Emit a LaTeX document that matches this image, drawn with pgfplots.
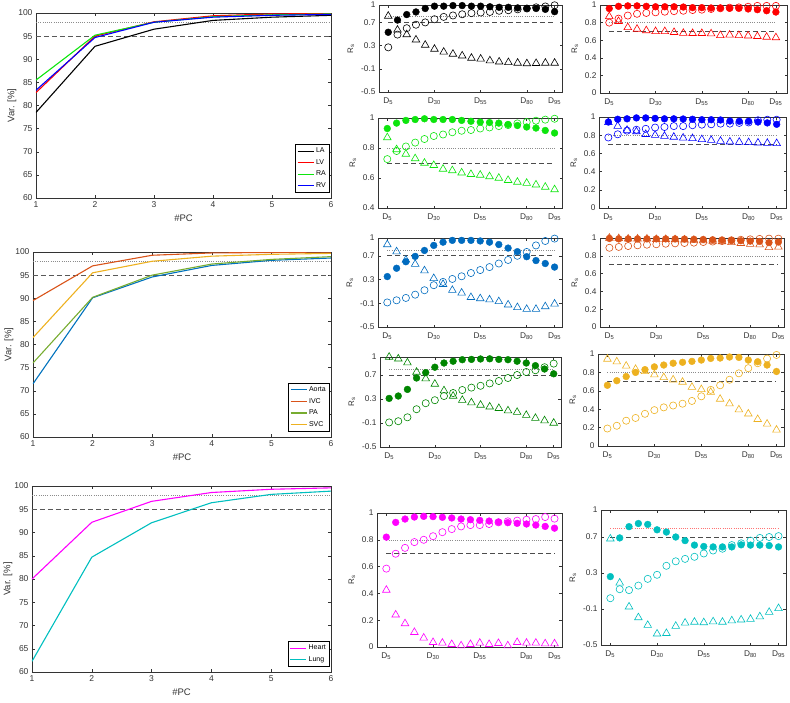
\documentclass[border=0pt]{standalone}
\usepackage{fontspec}
\setmainfont{Liberation Sans}
\usepackage{pgfplots}
\usepackage{pgfplotstable}
\pgfplotsset{compat=1.18}

\definecolor{mGreen}{rgb}{0.05,0.9,0.05}
\definecolor{mRed}{rgb}{1,0,0}
\definecolor{mBlue}{rgb}{0,0,1}
\definecolor{cAorta}{rgb}{0,0.447,0.741}
\definecolor{cAortaS}{rgb}{0,0.42,0.75}
\definecolor{cIVC}{rgb}{0.85,0.325,0.098}
\definecolor{cPA}{rgb}{0.466,0.674,0.188}
\definecolor{cSVC}{rgb}{0.929,0.694,0.125}
\definecolor{cPAs}{rgb}{0.0,0.52,0.0}
\definecolor{cLung}{rgb}{0.0,0.75,0.75}
\definecolor{cMag}{rgb}{1,0,1}
\definecolor{axgray}{rgb}{0.2,0.2,0.2}

\pgfplotsset{
 varax/.style={
  scale only axis,
  xmin=1, xmax=6, ymin=60, ymax=100,
  xtick={1,2,3,4,5,6}, ytick={60,65,70,75,80,85,90,95,100},
  tick align=inside, major tick length=3pt,
  axis line style={draw=axgray, line width=0.5pt},
  tick style={draw=axgray, line width=0.5pt},
  tick label style={font=\fontsize{8.5}{9}\selectfont, text=axgray},
  /pgf/number format/assume math mode=true,
  xlabel={\#PC}, ylabel={Var. [\%]},
  ylabel style={yshift=-5pt},
  label style={font=\fontsize{9.5}{10}\selectfont, text=axgray},
  legend style={at={(0.995,0.03)}, anchor=south east, font=\fontsize{7}{8}\selectfont,
    draw=black, inner sep=1.5pt, row sep=1.2pt, cells={anchor=west}},
  legend image code/.code={\draw[#1] (0pt,0pt) -- (16pt,0pt);},
 },
 vline/.style={draw=#1, line width=1.1pt, no marks},
 refdashL/.style={draw=black!65, line width=0.7pt, dash pattern=on 5pt off 3pt, no marks, forget plot},
 refdotL/.style={draw=black!45, line width=0.6pt, dash pattern=on 0.8pt off 1.4pt, no marks, forget plot},
 rsax/.style={
  scale only axis,
  xmin=0, xmax=99,
  xtick={5,30,55,80,95},
  xticklabels={D\textsubscript{5},D\textsubscript{30},D\textsubscript{55},D\textsubscript{80},D\textsubscript{95}},
  xticklabel style={yshift=-2pt},
  tick align=inside, major tick length=2.5pt,
  axis line style={draw=black!80, line width=0.6pt},
  tick style={draw=black!80, line width=0.5pt},
  tick label style={font=\fontsize{8.3}{9}\selectfont, text=black!80},
  /pgf/number format/assume math mode=true,
  ylabel={R\textsubscript{s}},
  label style={font=\fontsize{8}{9}\selectfont, text=black!80},
  clip=false,
 },
 rsA/.style={ymin=-0.5, ymax=1, ytick={-0.5,-0.1,0.3,0.7,1}},
 rsB/.style={ymin=0.4, ymax=1, ytick={0.4,0.6,0.8,1}},
 rsC/.style={ymin=0, ymax=1, ytick={0,0.2,0.4,0.6,0.8,1}},
 fcirc/.style={only marks, mark=*, mark size=3.4pt, draw=#1, fill=#1},
 ocirc/.style={only marks, mark=o, mark size=3.6pt, draw=#1, mark options={line width=0.6pt}},
 otri/.style={only marks, mark=triangle, mark size=4.4pt, draw=#1, mark options={line width=0.6pt}},
 refdash/.style={draw=black!70, line width=0.7pt, dash pattern=on 5pt off 3pt, no marks},
 refdot/.style={draw=#1, line width=0.6pt, dash pattern=on 0.8pt off 1.4pt, no marks},
 refdot/.default=black!45,
}

% ---------------- data ----------------
\pgfplotstableread{
pc LA LV RA RV
1 78.5 82.8 85.5 83.3
2 92.8 95.0 95.2 94.7
3 96.5 98.1 98.0 98.0
4 98.4 99.4 99.2 99.1
5 99.1 99.8 99.6 99.5
6 99.5 99.9 99.8 99.7
}\tabLone
\pgfplotstableread{
pc Aorta IVC PA SVC
1 71.5 89.5 76.0 81.5
2 90.1 97.0 90.2 95.5
3 94.6 99.3 95.0 98.0
4 97.1 99.8 97.4 99.1
5 98.2 99.9 98.4 99.5
6 98.7 100.0 99.0 99.7
}\tabLtwo
\pgfplotstableread{
pc Heart Lung
1 80.0 62.3
2 92.2 84.7
3 96.7 92.1
4 98.6 96.4
5 99.3 98.2
6 99.6 98.9
}\tabLthree

\pgfplotstableread{
x f o t
5 0.53 0.27 0.81
10 0.74 0.49 0.57
15 0.835 0.60 0.49
20 0.88 0.66 0.40
25 0.94 0.70 0.31
30 0.98 0.755 0.24
35 0.98 0.795 0.19
40 0.99 0.82 0.155
45 0.99 0.84 0.125
50 0.98 0.86 0.085
55 0.98 0.87 0.07
60 0.97 0.88 0.04
65 0.96 0.90 0.02
70 0.96 0.91 0.01
75 0.95 0.925 0.0
80 0.94 0.94 -0.01
85 0.94 0.96 -0.005
90 0.925 0.975 0.0
95 0.885 0.995 0.0
}\tabMone
\pgfplotstableread{
x f o t
5 0.93 0.726 0.87
10 0.966 0.78 0.79
15 0.984 0.81 0.76
20 0.99 0.836 0.73
25 0.995 0.86 0.70
30 0.99 0.88 0.685
35 0.99 0.89 0.66
40 0.99 0.905 0.65
45 0.984 0.915 0.635
50 0.978 0.92 0.625
55 0.973 0.93 0.62
60 0.97 0.937 0.61
65 0.966 0.946 0.60
70 0.957 0.953 0.585
75 0.95 0.964 0.573
80 0.94 0.973 0.566
85 0.933 0.982 0.555
90 0.917 0.989 0.54
95 0.90 0.995 0.523
}\tabMtwo
\pgfplotstableread{
x f o t
5 0.35 -0.086 0.89
10 0.49 -0.05 0.77
15 0.60 -0.01 0.63
20 0.69 0.045 0.56
25 0.79 0.12 0.45
30 0.875 0.205 0.32
35 0.93 0.26 0.22
40 0.96 0.31 0.12
45 0.96 0.355 0.075
50 0.96 0.41 0.0
55 0.95 0.46 -0.02
60 0.93 0.51 -0.04
65 0.89 0.57 -0.07
70 0.83 0.63 -0.125
75 0.77 0.70 -0.17
80 0.685 0.765 -0.2
85 0.62 0.875 -0.2
90 0.57 0.95 -0.155
95 0.51 0.99 -0.11
}\tabMthree
\pgfplotstableread{
x f o t
5 0.31 -0.09 1.0
10 0.35 -0.07 0.97
15 0.46 -0.005 0.905
20 0.65 0.13 0.75
25 0.74 0.23 0.64
30 0.83 0.28 0.55
35 0.90 0.35 0.44
40 0.93 0.40 0.35
45 0.955 0.45 0.28
50 0.96 0.49 0.24
55 0.967 0.52 0.20
60 0.97 0.56 0.17
65 0.96 0.60 0.145
70 0.955 0.65 0.105
75 0.93 0.70 0.08
80 0.90 0.75 0.03
85 0.856 0.78 -0.02
90 0.80 0.83 -0.06
95 0.72 0.89 -0.10
}\tabMfour
\pgfplotstableread{
x f o t
5 0.82 0.585 0.425
10 0.93 0.696 0.24
15 0.955 0.74 0.175
20 0.97 0.783 0.11
25 0.975 0.80 0.068
30 0.973 0.827 0.035
35 0.968 0.857 0.03
40 0.963 0.88 0.02
45 0.955 0.90 0.01
50 0.95 0.91 0.02
55 0.945 0.91 0.03
60 0.94 0.918 0.02
65 0.933 0.93 0.028
70 0.928 0.938 0.01
75 0.923 0.943 0.035
80 0.918 0.95 0.03
85 0.91 0.955 0.03
90 0.90 0.97 0.025
95 0.887 0.958 0.025
}\tabMfive
\pgfplotstableread{
x f o t
5 0.96 0.80 0.87
10 0.985 0.845 0.815
15 0.99 0.88 0.746
20 0.99 0.90 0.727
25 0.985 0.91 0.71
30 0.98 0.917 0.70
35 0.98 0.924 0.70
40 0.98 0.93 0.69
45 0.977 0.935 0.68
50 0.97 0.943 0.678
55 0.97 0.947 0.678
60 0.966 0.955 0.674
65 0.966 0.962 0.655
70 0.962 0.97 0.66
75 0.962 0.973 0.655
80 0.955 0.98 0.65
85 0.947 0.99 0.644
90 0.935 0.99 0.636
95 0.92 0.99 0.63
}\tabRone
\pgfplotstableread{
x f o t
5 0.945 0.775 0.94
10 0.975 0.81 0.90
15 0.98 0.85 0.855
20 0.99 0.86 0.84
25 0.99 0.87 0.81
30 0.985 0.884 0.80
35 0.98 0.89 0.79
40 0.98 0.90 0.78
45 0.978 0.90 0.77
50 0.975 0.91 0.764
55 0.97 0.916 0.753
60 0.97 0.92 0.745
65 0.967 0.927 0.735
70 0.956 0.927 0.727
75 0.953 0.935 0.724
80 0.953 0.94 0.72
85 0.945 0.964 0.716
90 0.935 0.97 0.713
95 0.92 0.97 0.71
}\tabRtwo
\pgfplotstableread{
x f o t
5 0.995 0.89 1.0
10 0.99 0.90 0.995
15 0.99 0.91 0.99
20 0.99 0.918 0.99
25 0.99 0.925 0.99
30 0.99 0.93 0.985
35 0.99 0.936 0.985
40 0.99 0.94 0.983
45 0.988 0.944 0.98
50 0.985 0.948 0.975
55 0.983 0.955 0.97
60 0.98 0.96 0.965
65 0.978 0.966 0.96
70 0.975 0.974 0.95
75 0.97 0.98 0.94
80 0.965 0.985 0.93
85 0.962 0.99 0.925
90 0.948 0.993 0.895
95 0.955 0.993 0.90
}\tabRthree
\pgfplotstableread{
x f o t
5 0.66 0.19 0.945
10 0.71 0.22 0.916
15 0.755 0.275 0.87
20 0.80 0.305 0.835
25 0.83 0.35 0.81
30 0.86 0.39 0.775
35 0.88 0.42 0.745
40 0.90 0.44 0.72
45 0.91 0.46 0.695
50 0.92 0.49 0.64
55 0.934 0.54 0.615
60 0.952 0.61 0.585
65 0.956 0.66 0.51
70 0.967 0.72 0.46
75 0.963 0.79 0.395
80 0.934 0.846 0.35
85 0.916 0.90 0.29
90 0.88 0.95 0.24
95 0.81 0.99 0.175
}\tabRfour
\pgfplotstableread{
x f o t
5 0.26 0.02 0.68
10 0.69 0.12 0.19
15 0.815 0.11 -0.075
20 0.85 0.16 -0.195
25 0.84 0.235 -0.28
30 0.78 0.28 -0.376
35 0.755 0.38 -0.37
40 0.70 0.43 -0.29
45 0.66 0.457 -0.255
50 0.61 0.48 -0.245
55 0.595 0.517 -0.25
60 0.59 0.55 -0.24
65 0.59 0.57 -0.245
70 0.59 0.61 -0.23
75 0.613 0.63 -0.22
80 0.61 0.66 -0.213
85 0.61 0.69 -0.185
90 0.605 0.70 -0.135
95 0.59 0.71 -0.093
}\tabRfive

\pgfplotstableread{
x y
5 0.7
95 0.7
}\tabRefA
\pgfplotstableread{
x y
5 0.8
95 0.8
}\tabRefB

\newcommand{\rspanel}[3]{% table, colour, refdot colour
  \addplot[refdash, forget plot] table[x=x,y=y] {\tabRefA};
  \addplot[refdot=#3, forget plot] table[x=x,y=y] {\tabRefB};
  \addplot[otri=#2] table[x=x,y=t] {#1};
  \addplot[ocirc=#2] table[x=x,y=o] {#1};
  \addplot[fcirc=#2] table[x=x,y=f] {#1};
}

\begin{document}
\begin{tikzpicture}
\useasboundingbox (0pt,0pt) rectangle (790pt,-702pt);

% ---------- left column ----------
\begin{axis}[varax, at={(36pt,-198pt)}, anchor=south west, width=295pt, height=185pt]
  \addplot[refdashL] coordinates {(1,95) (6,95)};
  \addplot[refdotL] coordinates {(1,98) (6,98)};
  \addplot[vline=black] table[x=pc,y=LA] {\tabLone};
  \addplot[vline=mRed] table[x=pc,y=LV] {\tabLone};
  \addplot[vline=mGreen] table[x=pc,y=RA] {\tabLone};
  \addplot[vline=mBlue] table[x=pc,y=RV] {\tabLone};
  \legend{LA,LV,RA,RV}
\end{axis}

\begin{axis}[varax, at={(33pt,-437pt)}, anchor=south west, width=298pt, height=185pt]
  \addplot[refdashL] coordinates {(1,95) (6,95)};
  \addplot[refdotL] coordinates {(1,98) (6,98)};
  \addplot[vline=cAorta] table[x=pc,y=Aorta] {\tabLtwo};
  \addplot[vline=cIVC] table[x=pc,y=IVC] {\tabLtwo};
  \addplot[vline=cPA] table[x=pc,y=PA] {\tabLtwo};
  \addplot[vline=cSVC] table[x=pc,y=SVC] {\tabLtwo};
  \legend{Aorta,IVC,PA,SVC}
\end{axis}

\begin{axis}[varax, at={(32pt,-672pt)}, anchor=south west, width=299pt, height=186pt]
  \addplot[refdashL] coordinates {(1,95) (6,95)};
  \addplot[refdotL] coordinates {(1,98) (6,98)};
  \addplot[vline=cMag] table[x=pc,y=Heart] {\tabLthree};
  \addplot[vline=cLung] table[x=pc,y=Lung] {\tabLthree};
  \legend{Heart,Lung}
\end{axis}

% ---------- middle column ----------
\begin{axis}[rsax, rsA, at={(379pt,-92pt)}, anchor=south west, width=183pt, height=87pt]
  \rspanel{\tabMone}{black}{black!45}
\end{axis}
\begin{axis}[rsax, rsB, at={(378pt,-208pt)}, anchor=south west, width=184pt, height=90pt]
  \rspanel{\tabMtwo}{mGreen}{black!45}
\end{axis}
\begin{axis}[rsax, rsA, at={(378pt,-327pt)}, anchor=south west, width=184pt, height=89pt]
  \rspanel{\tabMthree}{cAortaS}{black!45}
\end{axis}
\begin{axis}[rsax, rsA, at={(380pt,-447pt)}, anchor=south west, width=181pt, height=90pt]
  \rspanel{\tabMfour}{cPAs}{black!45}
\end{axis}
\begin{axis}[rsax, rsC, at={(377pt,-647pt)}, anchor=south west, width=185pt, height=134pt]
  \rspanel{\tabMfive}{cMag}{black!45}
\end{axis}

% ---------- right column ----------
\begin{axis}[rsax, rsC, at={(600pt,-93pt)}, anchor=south west, width=187pt, height=88pt, xmax=101]
  \rspanel{\tabRone}{mRed}{black!45}
\end{axis}
\begin{axis}[rsax, rsC, at={(599pt,-208pt)}, anchor=south west, width=187pt, height=91pt, xmax=100]
  \rspanel{\tabRtwo}{mBlue}{black!45}
\end{axis}
\begin{axis}[rsax, rsC, at={(600pt,-327pt)}, anchor=south west, width=184pt, height=89pt, xmax=98]
  \rspanel{\tabRthree}{cIVC}{black!45}
\end{axis}
\begin{axis}[rsax, rsC, at={(598pt,-446pt)}, anchor=south west, width=186pt, height=92pt, xmax=99]
  \rspanel{\tabRfour}{cSVC}{black!45}
\end{axis}
\begin{axis}[rsax, rsA, at={(601pt,-645pt)}, anchor=south west, width=185pt, height=135pt, xmax=99]
  \rspanel{\tabRfive}{cLung}{red!55}
\end{axis}
\end{tikzpicture}
\end{document}
